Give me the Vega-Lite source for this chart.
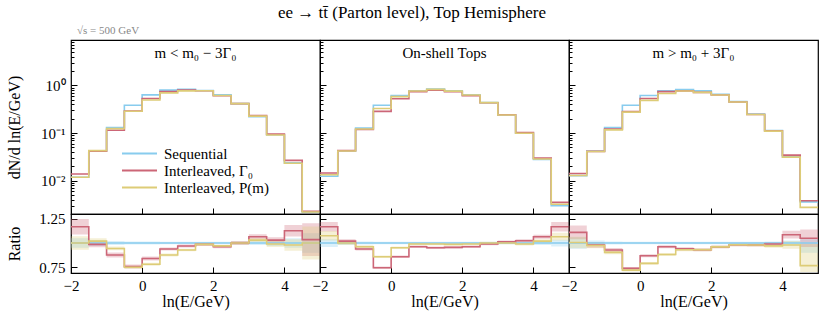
{
"$schema": "https://vega.github.io/schema/vega-lite/v6.json",
"background": "white",
"padding": {"left": 5, "right": 8, "top": 3, "bottom": 3},
"title": {"text": "ee → tt̄ (Parton level), Top Hemisphere", "font": "Liberation Serif", "fontSize": 17, "fontWeight": "normal", "anchor": "middle", "offset": 3, "color": "black"},
"config": {
  "font": "Liberation Serif",
  "view": {"stroke": "black", "strokeWidth": 1.2},
  "axis": {"grid": false, "domain": false, "tickColor": "black", "labelColor": "black", "titleColor": "black", "labelFont": "Liberation Serif", "titleFont": "Liberation Serif", "labelFontSize": 15, "titleFontSize": 16, "titleFontWeight": "normal", "labelFlush": false, "labelOverlap": false, "tickWidth": 1},
  "legend": {"orient": "none", "legendX": 61, "legendY": 106, "labelFont": "Liberation Serif", "labelFontSize": 15, "labelColor": "black", "symbolType": "M-5,0L5,0", "symbolStrokeWidth": 2, "symbolSize": 49, "labelOffset": 17, "rowPadding": 1}
},
"datasets": {
"top": [
{"p":"L","s":"S","x":-2,"y":0.0118},{"p":"L","s":"S","x":-1.5,"y":0.042},{"p":"L","s":"S","x":-1,"y":0.131},{"p":"L","s":"S","x":-0.5,"y":0.383},{"p":"L","s":"S","x":0,"y":0.634},{"p":"L","s":"S","x":0.5,"y":0.796},{"p":"L","s":"S","x":1,"y":0.83},{"p":"L","s":"S","x":1.5,"y":0.784},{"p":"L","s":"S","x":2,"y":0.634},{"p":"L","s":"S","x":2.5,"y":0.415},{"p":"L","s":"S","x":3,"y":0.22},{"p":"L","s":"S","x":3.5,"y":0.092},{"p":"L","s":"S","x":4,"y":0.0237},{"p":"L","s":"S","x":4.5,"y":0.0022},{"p":"L","s":"S","x":5,"y":0.0022},
{"p":"L","s":"G","x":-2,"y":0.0138},{"p":"L","s":"G","x":-1.5,"y":0.0414},{"p":"L","s":"G","x":-1,"y":0.115},{"p":"L","s":"G","x":-0.5,"y":0.289},{"p":"L","s":"G","x":0,"y":0.533},{"p":"L","s":"G","x":0.5,"y":0.747},{"p":"L","s":"G","x":1,"y":0.804},{"p":"L","s":"G","x":1.5,"y":0.773},{"p":"L","s":"G","x":2,"y":0.61},{"p":"L","s":"G","x":2.5,"y":0.415},{"p":"L","s":"G","x":3,"y":0.234},{"p":"L","s":"G","x":3.5,"y":0.095},{"p":"L","s":"G","x":4,"y":0.0267},{"p":"L","s":"G","x":4.5,"y":0.00228},{"p":"L","s":"G","x":5,"y":0.00228},
{"p":"L","s":"P","x":-2,"y":0.0118},{"p":"L","s":"P","x":-1.5,"y":0.0428},{"p":"L","s":"P","x":-1,"y":0.124},{"p":"L","s":"P","x":-0.5,"y":0.287},{"p":"L","s":"P","x":0,"y":0.495},{"p":"L","s":"P","x":0.5,"y":0.697},{"p":"L","s":"P","x":1,"y":0.77},{"p":"L","s":"P","x":1.5,"y":0.773},{"p":"L","s":"P","x":2,"y":0.615},{"p":"L","s":"P","x":2.5,"y":0.415},{"p":"L","s":"P","x":3,"y":0.227},{"p":"L","s":"P","x":3.5,"y":0.091},{"p":"L","s":"P","x":4,"y":0.0232},{"p":"L","s":"P","x":4.5,"y":0.0022},{"p":"L","s":"P","x":5,"y":0.0022},
{"p":"M","s":"S","x":-2,"y":0.0124},{"p":"M","s":"S","x":-1.5,"y":0.042},{"p":"M","s":"S","x":-1,"y":0.127},{"p":"M","s":"S","x":-0.5,"y":0.383},{"p":"M","s":"S","x":0,"y":0.614},{"p":"M","s":"S","x":0.5,"y":0.77},{"p":"M","s":"S","x":1,"y":0.836},{"p":"M","s":"S","x":1.5,"y":0.77},{"p":"M","s":"S","x":2,"y":0.634},{"p":"M","s":"S","x":2.5,"y":0.436},{"p":"M","s":"S","x":3,"y":0.239},{"p":"M","s":"S","x":3.5,"y":0.1},{"p":"M","s":"S","x":4,"y":0.028},{"p":"M","s":"S","x":4.5,"y":0.003},{"p":"M","s":"S","x":5,"y":0.003},
{"p":"M","s":"G","x":-2,"y":0.0145},{"p":"M","s":"G","x":-1.5,"y":0.0428},{"p":"M","s":"G","x":-1,"y":0.119},{"p":"M","s":"G","x":-0.5,"y":0.285},{"p":"M","s":"G","x":0,"y":0.527},{"p":"M","s":"G","x":0.5,"y":0.741},{"p":"M","s":"G","x":1,"y":0.795},{"p":"M","s":"G","x":1.5,"y":0.735},{"p":"M","s":"G","x":2,"y":0.61},{"p":"M","s":"G","x":2.5,"y":0.432},{"p":"M","s":"G","x":3,"y":0.242},{"p":"M","s":"G","x":3.5,"y":0.102},{"p":"M","s":"G","x":4,"y":0.0298},{"p":"M","s":"G","x":4.5,"y":0.0035},{"p":"M","s":"G","x":5,"y":0.0035},
{"p":"M","s":"P","x":-2,"y":0.0133},{"p":"M","s":"P","x":-1.5,"y":0.042},{"p":"M","s":"P","x":-1,"y":0.122},{"p":"M","s":"P","x":-0.5,"y":0.329},{"p":"M","s":"P","x":0,"y":0.584},{"p":"M","s":"P","x":0.5,"y":0.762},{"p":"M","s":"P","x":1,"y":0.828},{"p":"M","s":"P","x":1.5,"y":0.759},{"p":"M","s":"P","x":2,"y":0.628},{"p":"M","s":"P","x":2.5,"y":0.436},{"p":"M","s":"P","x":3,"y":0.239},{"p":"M","s":"P","x":3.5,"y":0.099},{"p":"M","s":"P","x":4,"y":0.0286},{"p":"M","s":"P","x":4.5,"y":0.0032},{"p":"M","s":"P","x":5,"y":0.0032},
{"p":"R","s":"S","x":-2,"y":0.0128},{"p":"R","s":"S","x":-1.5,"y":0.042},{"p":"R","s":"S","x":-1,"y":0.13},{"p":"R","s":"S","x":-0.5,"y":0.383},{"p":"R","s":"S","x":0,"y":0.614},{"p":"R","s":"S","x":0.5,"y":0.77},{"p":"R","s":"S","x":1,"y":0.82},{"p":"R","s":"S","x":1.5,"y":0.77},{"p":"R","s":"S","x":2,"y":0.655},{"p":"R","s":"S","x":2.5,"y":0.458},{"p":"R","s":"S","x":3,"y":0.25},{"p":"R","s":"S","x":3.5,"y":0.113},{"p":"R","s":"S","x":4,"y":0.0318},{"p":"R","s":"S","x":4.5,"y":0.0036},{"p":"R","s":"S","x":5,"y":0.0036},
{"p":"R","s":"G","x":-2,"y":0.0142},{"p":"R","s":"G","x":-1.5,"y":0.0412},{"p":"R","s":"G","x":-1,"y":0.121},{"p":"R","s":"G","x":-0.5,"y":0.283},{"p":"R","s":"G","x":0,"y":0.534},{"p":"R","s":"G","x":0.5,"y":0.741},{"p":"R","s":"G","x":1,"y":0.771},{"p":"R","s":"G","x":1.5,"y":0.716},{"p":"R","s":"G","x":2,"y":0.629},{"p":"R","s":"G","x":2.5,"y":0.45},{"p":"R","s":"G","x":3,"y":0.245},{"p":"R","s":"G","x":3.5,"y":0.112},{"p":"R","s":"G","x":4,"y":0.0345},{"p":"R","s":"G","x":4.5,"y":0.0038},{"p":"R","s":"G","x":5,"y":0.0038},
{"p":"R","s":"P","x":-2,"y":0.0129},{"p":"R","s":"P","x":-1.5,"y":0.041},{"p":"R","s":"P","x":-1,"y":0.117},{"p":"R","s":"P","x":-0.5,"y":0.276},{"p":"R","s":"P","x":0,"y":0.485},{"p":"R","s":"P","x":0.5,"y":0.679},{"p":"R","s":"P","x":1,"y":0.763},{"p":"R","s":"P","x":1.5,"y":0.716},{"p":"R","s":"P","x":2,"y":0.629},{"p":"R","s":"P","x":2.5,"y":0.45},{"p":"R","s":"P","x":3,"y":0.245},{"p":"R","s":"P","x":3.5,"y":0.11},{"p":"R","s":"P","x":4,"y":0.0312},{"p":"R","s":"P","x":4.5,"y":0.00276},{"p":"R","s":"P","x":5,"y":0.00276}
],
"ratio": [
{"p":"L","s":"S","x":-2,"r":1,"lo":0.95,"hi":1.05},{"p":"L","s":"S","x":-1.5,"r":1,"lo":0.97,"hi":1.03},{"p":"L","s":"S","x":-1,"r":1,"lo":0.98,"hi":1.02},{"p":"L","s":"S","x":-0.5,"r":1,"lo":0.985,"hi":1.015},{"p":"L","s":"S","x":0,"r":1,"lo":0.985,"hi":1.015},{"p":"L","s":"S","x":0.5,"r":1,"lo":0.988,"hi":1.012},{"p":"L","s":"S","x":1,"r":1,"lo":0.988,"hi":1.012},{"p":"L","s":"S","x":1.5,"r":1,"lo":0.988,"hi":1.012},{"p":"L","s":"S","x":2,"r":1,"lo":0.988,"hi":1.012},{"p":"L","s":"S","x":2.5,"r":1,"lo":0.985,"hi":1.015},{"p":"L","s":"S","x":3,"r":1,"lo":0.98,"hi":1.02},{"p":"L","s":"S","x":3.5,"r":1,"lo":0.97,"hi":1.03},{"p":"L","s":"S","x":4,"r":1,"lo":0.95,"hi":1.05},{"p":"L","s":"S","x":4.5,"r":1,"lo":0.9,"hi":1.1},{"p":"L","s":"S","x":5,"r":1,"lo":0.9,"hi":1.1},
{"p":"L","s":"G","x":-2,"r":1.168,"lo":1.088,"hi":1.248},{"p":"L","s":"G","x":-1.5,"r":0.986,"lo":0.956,"hi":1.016},{"p":"L","s":"G","x":-1,"r":0.876,"lo":0.851,"hi":0.901},{"p":"L","s":"G","x":-0.5,"r":0.757,"lo":0.737,"hi":0.777},{"p":"L","s":"G","x":0,"r":0.84,"lo":0.82,"hi":0.86},{"p":"L","s":"G","x":0.5,"r":0.938,"lo":0.923,"hi":0.953},{"p":"L","s":"G","x":1,"r":0.969,"lo":0.954,"hi":0.984},{"p":"L","s":"G","x":1.5,"r":0.986,"lo":0.971,"hi":1.001},{"p":"L","s":"G","x":2,"r":0.962,"lo":0.947,"hi":0.977},{"p":"L","s":"G","x":2.5,"r":1.0,"lo":0.98,"hi":1.02},{"p":"L","s":"G","x":3,"r":1.065,"lo":1.04,"hi":1.09},{"p":"L","s":"G","x":3.5,"r":1.03,"lo":1.0,"hi":1.06},{"p":"L","s":"G","x":4,"r":1.127,"lo":1.067,"hi":1.187},{"p":"L","s":"G","x":4.5,"r":1.035,"lo":0.865,"hi":1.205},{"p":"L","s":"G","x":5,"r":1.035,"lo":0.865,"hi":1.205},
{"p":"L","s":"P","x":-2,"r":1.0,"lo":0.93,"hi":1.07},{"p":"L","s":"P","x":-1.5,"r":1.02,"lo":0.99,"hi":1.05},{"p":"L","s":"P","x":-1,"r":0.944,"lo":0.924,"hi":0.964},{"p":"L","s":"P","x":-0.5,"r":0.75,"lo":0.735,"hi":0.765},{"p":"L","s":"P","x":0,"r":0.78,"lo":0.765,"hi":0.795},{"p":"L","s":"P","x":0.5,"r":0.876,"lo":0.861,"hi":0.891},{"p":"L","s":"P","x":1,"r":0.928,"lo":0.916,"hi":0.94},{"p":"L","s":"P","x":1.5,"r":0.986,"lo":0.974,"hi":0.998},{"p":"L","s":"P","x":2,"r":0.97,"lo":0.958,"hi":0.982},{"p":"L","s":"P","x":2.5,"r":1.0,"lo":0.985,"hi":1.015},{"p":"L","s":"P","x":3,"r":1.03,"lo":1.01,"hi":1.05},{"p":"L","s":"P","x":3.5,"r":0.99,"lo":0.96,"hi":1.02},{"p":"L","s":"P","x":4,"r":0.98,"lo":0.92,"hi":1.04},{"p":"L","s":"P","x":4.5,"r":1.0,"lo":0.83,"hi":1.17},{"p":"L","s":"P","x":5,"r":1.0,"lo":0.83,"hi":1.17},
{"p":"M","s":"S","x":-2,"r":1,"lo":0.96,"hi":1.04},{"p":"M","s":"S","x":-1.5,"r":1,"lo":0.98,"hi":1.02},{"p":"M","s":"S","x":-1,"r":1,"lo":0.985,"hi":1.015},{"p":"M","s":"S","x":-0.5,"r":1,"lo":0.988,"hi":1.012},{"p":"M","s":"S","x":0,"r":1,"lo":0.988,"hi":1.012},{"p":"M","s":"S","x":0.5,"r":1,"lo":0.988,"hi":1.012},{"p":"M","s":"S","x":1,"r":1,"lo":0.988,"hi":1.012},{"p":"M","s":"S","x":1.5,"r":1,"lo":0.988,"hi":1.012},{"p":"M","s":"S","x":2,"r":1,"lo":0.988,"hi":1.012},{"p":"M","s":"S","x":2.5,"r":1,"lo":0.988,"hi":1.012},{"p":"M","s":"S","x":3,"r":1,"lo":0.988,"hi":1.012},{"p":"M","s":"S","x":3.5,"r":1,"lo":0.985,"hi":1.015},{"p":"M","s":"S","x":4,"r":1,"lo":0.98,"hi":1.02},{"p":"M","s":"S","x":4.5,"r":1,"lo":0.965,"hi":1.035},{"p":"M","s":"S","x":5,"r":1,"lo":0.965,"hi":1.035},
{"p":"M","s":"G","x":-2,"r":1.168,"lo":1.118,"hi":1.218},{"p":"M","s":"G","x":-1.5,"r":1.02,"lo":1.0,"hi":1.04},{"p":"M","s":"G","x":-1,"r":0.938,"lo":0.923,"hi":0.953},{"p":"M","s":"G","x":-0.5,"r":0.745,"lo":0.733,"hi":0.757},{"p":"M","s":"G","x":0,"r":0.858,"lo":0.846,"hi":0.87},{"p":"M","s":"G","x":0.5,"r":0.962,"lo":0.95,"hi":0.974},{"p":"M","s":"G","x":1,"r":0.951,"lo":0.939,"hi":0.963},{"p":"M","s":"G","x":1.5,"r":0.955,"lo":0.943,"hi":0.967},{"p":"M","s":"G","x":2,"r":0.962,"lo":0.95,"hi":0.974},{"p":"M","s":"G","x":2.5,"r":0.99,"lo":0.978,"hi":1.002},{"p":"M","s":"G","x":3,"r":1.013,"lo":1.001,"hi":1.025},{"p":"M","s":"G","x":3.5,"r":1.024,"lo":1.009,"hi":1.039},{"p":"M","s":"G","x":4,"r":1.065,"lo":1.045,"hi":1.085},{"p":"M","s":"G","x":4.5,"r":1.168,"lo":1.118,"hi":1.218},{"p":"M","s":"G","x":5,"r":1.168,"lo":1.118,"hi":1.218},
{"p":"M","s":"P","x":-2,"r":1.075,"lo":1.025,"hi":1.125},{"p":"M","s":"P","x":-1.5,"r":1.0,"lo":0.98,"hi":1.02},{"p":"M","s":"P","x":-1,"r":0.962,"lo":0.947,"hi":0.977},{"p":"M","s":"P","x":-0.5,"r":0.858,"lo":0.846,"hi":0.87},{"p":"M","s":"P","x":0,"r":0.951,"lo":0.939,"hi":0.963},{"p":"M","s":"P","x":0.5,"r":0.99,"lo":0.978,"hi":1.002},{"p":"M","s":"P","x":1,"r":0.99,"lo":0.978,"hi":1.002},{"p":"M","s":"P","x":1.5,"r":0.986,"lo":0.974,"hi":0.998},{"p":"M","s":"P","x":2,"r":0.99,"lo":0.978,"hi":1.002},{"p":"M","s":"P","x":2.5,"r":1.0,"lo":0.988,"hi":1.012},{"p":"M","s":"P","x":3,"r":1.0,"lo":0.988,"hi":1.012},{"p":"M","s":"P","x":3.5,"r":0.99,"lo":0.975,"hi":1.005},{"p":"M","s":"P","x":4,"r":1.02,"lo":1.0,"hi":1.04},{"p":"M","s":"P","x":4.5,"r":1.065,"lo":1.025,"hi":1.105},{"p":"M","s":"P","x":5,"r":1.065,"lo":1.025,"hi":1.105},
{"p":"R","s":"S","x":-2,"r":1,"lo":0.94,"hi":1.06},{"p":"R","s":"S","x":-1.5,"r":1,"lo":0.975,"hi":1.025},{"p":"R","s":"S","x":-1,"r":1,"lo":0.985,"hi":1.015},{"p":"R","s":"S","x":-0.5,"r":1,"lo":0.988,"hi":1.012},{"p":"R","s":"S","x":0,"r":1,"lo":0.988,"hi":1.012},{"p":"R","s":"S","x":0.5,"r":1,"lo":0.988,"hi":1.012},{"p":"R","s":"S","x":1,"r":1,"lo":0.988,"hi":1.012},{"p":"R","s":"S","x":1.5,"r":1,"lo":0.988,"hi":1.012},{"p":"R","s":"S","x":2,"r":1,"lo":0.988,"hi":1.012},{"p":"R","s":"S","x":2.5,"r":1,"lo":0.988,"hi":1.012},{"p":"R","s":"S","x":3,"r":1,"lo":0.988,"hi":1.012},{"p":"R","s":"S","x":3.5,"r":1,"lo":0.985,"hi":1.015},{"p":"R","s":"S","x":4,"r":1,"lo":0.975,"hi":1.025},{"p":"R","s":"S","x":4.5,"r":1,"lo":0.9,"hi":1.04},{"p":"R","s":"S","x":5,"r":1,"lo":0.9,"hi":1.04},
{"p":"R","s":"G","x":-2,"r":1.11,"lo":1.04,"hi":1.18},{"p":"R","s":"G","x":-1.5,"r":0.98,"lo":0.95,"hi":1.01},{"p":"R","s":"G","x":-1,"r":0.928,"lo":0.908,"hi":0.948},{"p":"R","s":"G","x":-0.5,"r":0.738,"lo":0.723,"hi":0.753},{"p":"R","s":"G","x":0,"r":0.869,"lo":0.854,"hi":0.884},{"p":"R","s":"G","x":0.5,"r":0.962,"lo":0.947,"hi":0.977},{"p":"R","s":"G","x":1,"r":0.94,"lo":0.925,"hi":0.955},{"p":"R","s":"G","x":1.5,"r":0.93,"lo":0.915,"hi":0.945},{"p":"R","s":"G","x":2,"r":0.96,"lo":0.945,"hi":0.975},{"p":"R","s":"G","x":2.5,"r":0.982,"lo":0.967,"hi":0.997},{"p":"R","s":"G","x":3,"r":0.98,"lo":0.965,"hi":0.995},{"p":"R","s":"G","x":3.5,"r":0.99,"lo":0.97,"hi":1.01},{"p":"R","s":"G","x":4,"r":1.086,"lo":1.046,"hi":1.126},{"p":"R","s":"G","x":4.5,"r":1.05,"lo":0.96,"hi":1.14},{"p":"R","s":"G","x":5,"r":1.05,"lo":0.96,"hi":1.14},
{"p":"R","s":"P","x":-2,"r":1.006,"lo":0.946,"hi":1.066},{"p":"R","s":"P","x":-1.5,"r":0.975,"lo":0.945,"hi":1.005},{"p":"R","s":"P","x":-1,"r":0.903,"lo":0.883,"hi":0.923},{"p":"R","s":"P","x":-0.5,"r":0.72,"lo":0.705,"hi":0.735},{"p":"R","s":"P","x":0,"r":0.79,"lo":0.775,"hi":0.805},{"p":"R","s":"P","x":0.5,"r":0.882,"lo":0.867,"hi":0.897},{"p":"R","s":"P","x":1,"r":0.93,"lo":0.915,"hi":0.945},{"p":"R","s":"P","x":1.5,"r":0.93,"lo":0.915,"hi":0.945},{"p":"R","s":"P","x":2,"r":0.96,"lo":0.945,"hi":0.975},{"p":"R","s":"P","x":2.5,"r":0.982,"lo":0.967,"hi":0.997},{"p":"R","s":"P","x":3,"r":0.98,"lo":0.965,"hi":0.995},{"p":"R","s":"P","x":3.5,"r":0.97,"lo":0.95,"hi":0.99},{"p":"R","s":"P","x":4,"r":0.98,"lo":0.94,"hi":1.02},{"p":"R","s":"P","x":4.5,"r":0.766,"lo":0.7,"hi":0.99},{"p":"R","s":"P","x":5,"r":0.766,"lo":0.7,"hi":0.99}
]
},
"columns": 3,
"spacing": 0,
"bounds": "flush",
"concat": [
  {
   "width": 249, "height": 174,
   "layer": [
    {
     "data": {"name": "top"},
     "transform": [{"filter": "datum.p == 'L'"}],
     "mark": {"type": "line", "interpolate": "step-after", "strokeWidth": 1.6, "clip": true},
     "encoding": {
      "x": {"field": "x", "type": "quantitative", "scale": {"domain": [-2, 5], "nice": false, "zero": false}, "axis": {"values": [-2, 0, 2, 4], "labels": false, "title": null, "tickSize": -6}},
      "y": {"field": "y", "type": "quantitative", "scale": {"type": "log", "domain": [0.002, 9], "nice": false}, "axis": {"title": "dN/d ln(E/GeV)", "titleX": -57, "titleBaseline": "middle", "tickCount": 40, "labelPadding": 12, "tickSize": {"condition": {"test": "abs(log(datum.value)/LN10 - round(log(datum.value)/LN10)) < 0.001", "value": -6}, "value": -3}, "labelExpr": "abs(log(datum.value)/LN10 - round(log(datum.value)/LN10)) < 0.001 ? (round(log(datum.value)/LN10) == 0 ? '10⁰' : round(log(datum.value)/LN10) == -1 ? '10⁻¹' : round(log(datum.value)/LN10) == -2 ? '10⁻²' : '') : ''"}},
      "color": {"field": "s", "type": "nominal", "title": null, "scale": {"domain": ["S", "G", "P"], "range": ["#88CCEE", "#CC6677", "#DDCC77"]}, "legend": {"labelExpr": "datum.label == 'S' ? 'Sequential' : datum.label == 'G' ? 'Interleaved, Γ₀' : 'Interleaved, P(m)'"}}
     }
    },
    {
     "data": {"values": [{"label": "m < m₀ − 3Γ₀"}]},
     "mark": {"type": "text", "fontSize": 15, "font": "Liberation Serif", "baseline": "middle", "align": "center", "color": "black"},
     "encoding": {"x": {"datum": 1.5}, "y": {"datum": 4.7}, "text": {"field": "label"}}
    },
    {
     "data": {"values": [{"label": "√s = 500 GeV"}]},
     "mark": {"type": "text", "fontSize": 11, "font": "Liberation Serif", "baseline": "middle", "align": "left", "color": "#888888"},
     "encoding": {"x": {"datum": -1.83}, "y": {"datum": 13.6}, "text": {"field": "label"}}
    }
   ]
  },
  {
   "width": 249, "height": 174,
   "layer": [
    {
     "data": {"name": "top"},
     "transform": [{"filter": "datum.p == 'M'"}],
     "mark": {"type": "line", "interpolate": "step-after", "strokeWidth": 1.6, "clip": true},
     "encoding": {
      "x": {"field": "x", "type": "quantitative", "scale": {"domain": [-2, 5], "nice": false, "zero": false}, "axis": {"values": [-2, 0, 2, 4], "labels": false, "title": null, "tickSize": -6}},
      "y": {"field": "y", "type": "quantitative", "scale": {"type": "log", "domain": [0.002, 9], "nice": false}, "axis": {"title": null, "labels": false, "tickCount": 40, "tickSize": {"condition": {"test": "abs(log(datum.value)/LN10 - round(log(datum.value)/LN10)) < 0.001", "value": -6}, "value": -3}}},
      "color": {"field": "s", "type": "nominal", "title": null, "scale": {"domain": ["S", "G", "P"], "range": ["#88CCEE", "#CC6677", "#DDCC77"]}, "legend": {"labelExpr": "datum.label == 'S' ? 'Sequential' : datum.label == 'G' ? 'Interleaved, Γ₀' : 'Interleaved, P(m)'"}}
     }
    },
    {
     "data": {"values": [{"label": "On-shell Tops"}]},
     "mark": {"type": "text", "fontSize": 15, "font": "Liberation Serif", "baseline": "middle", "align": "center", "color": "black"},
     "encoding": {"x": {"datum": 1.5}, "y": {"datum": 4.7}, "text": {"field": "label"}}
    }
   ]
  },
  {
   "width": 249, "height": 174,
   "layer": [
    {
     "data": {"name": "top"},
     "transform": [{"filter": "datum.p == 'R'"}],
     "mark": {"type": "line", "interpolate": "step-after", "strokeWidth": 1.6, "clip": true},
     "encoding": {
      "x": {"field": "x", "type": "quantitative", "scale": {"domain": [-2, 5], "nice": false, "zero": false}, "axis": {"values": [-2, 0, 2, 4], "labels": false, "title": null, "tickSize": -6}},
      "y": {"field": "y", "type": "quantitative", "scale": {"type": "log", "domain": [0.002, 9], "nice": false}, "axis": {"title": null, "labels": false, "tickCount": 40, "tickSize": {"condition": {"test": "abs(log(datum.value)/LN10 - round(log(datum.value)/LN10)) < 0.001", "value": -6}, "value": -3}}},
      "color": {"field": "s", "type": "nominal", "title": null, "scale": {"domain": ["S", "G", "P"], "range": ["#88CCEE", "#CC6677", "#DDCC77"]}, "legend": {"labelExpr": "datum.label == 'S' ? 'Sequential' : datum.label == 'G' ? 'Interleaved, Γ₀' : 'Interleaved, P(m)'"}}
     }
    },
    {
     "data": {"values": [{"label": "m > m₀ + 3Γ₀"}]},
     "mark": {"type": "text", "fontSize": 15, "font": "Liberation Serif", "baseline": "middle", "align": "center", "color": "black"},
     "encoding": {"x": {"datum": 1.5}, "y": {"datum": 4.7}, "text": {"field": "label"}}
    }
   ]
  },
  {
   "width": 249, "height": 59,
   "data": {"name": "ratio"},
   "transform": [{"filter": "datum.p == 'L'"}],
   "encoding": {
    "x": {"field": "x", "type": "quantitative", "scale": {"domain": [-2, 5], "nice": false, "zero": false}, "axis": {"values": [-2, 0, 2, 4], "title": "ln(E/GeV)", "tickSize": -6, "labelPadding": 11, "titlePadding": 0}}
   },
   "layer": [
    {"mark": {"type": "area", "interpolate": "step-after", "fillOpacity": 0.3, "clip": true},
     "encoding": {"y": {"field": "lo", "type": "quantitative", "scale": {"domain": [0.69, 1.3], "nice": false, "zero": false}, "axis": {"values": [0.75, 1.0, 1.25], "format": ".2f", "title": "Ratio", "titleX": -57, "titleBaseline": "middle", "tickSize": -6, "labelPadding": 12}}, "y2": {"field": "hi"},
      "color": {"field": "s", "type": "nominal", "title": null, "scale": {"domain": ["S", "G", "P"], "range": ["#88CCEE", "#CC6677", "#DDCC77"]}, "legend": null}}},
    {"mark": {"type": "line", "interpolate": "step-after", "strokeWidth": 1.6, "clip": true},
     "encoding": {"y": {"field": "r", "type": "quantitative"},
      "color": {"field": "s", "type": "nominal", "title": null, "scale": {"domain": ["S", "G", "P"], "range": ["#88CCEE", "#CC6677", "#DDCC77"]}, "legend": {"labelExpr": "datum.label == 'S' ? 'Sequential' : datum.label == 'G' ? 'Interleaved, Γ₀' : 'Interleaved, P(m)'"}}}}
   ]
  },
  {
   "width": 249, "height": 59,
   "data": {"name": "ratio"},
   "transform": [{"filter": "datum.p == 'M'"}],
   "encoding": {
    "x": {"field": "x", "type": "quantitative", "scale": {"domain": [-2, 5], "nice": false, "zero": false}, "axis": {"values": [-2, 0, 2, 4], "title": "ln(E/GeV)", "tickSize": -6, "labelPadding": 11, "titlePadding": 0}}
   },
   "layer": [
    {"mark": {"type": "area", "interpolate": "step-after", "fillOpacity": 0.3, "clip": true},
     "encoding": {"y": {"field": "lo", "type": "quantitative", "scale": {"domain": [0.69, 1.3], "nice": false, "zero": false}, "axis": {"values": [0.75, 1.0, 1.25], "labels": false, "title": null, "tickSize": -6}}, "y2": {"field": "hi"},
      "color": {"field": "s", "type": "nominal", "title": null, "scale": {"domain": ["S", "G", "P"], "range": ["#88CCEE", "#CC6677", "#DDCC77"]}, "legend": null}}},
    {"mark": {"type": "line", "interpolate": "step-after", "strokeWidth": 1.6, "clip": true},
     "encoding": {"y": {"field": "r", "type": "quantitative"},
      "color": {"field": "s", "type": "nominal", "title": null, "scale": {"domain": ["S", "G", "P"], "range": ["#88CCEE", "#CC6677", "#DDCC77"]}, "legend": {"labelExpr": "datum.label == 'S' ? 'Sequential' : datum.label == 'G' ? 'Interleaved, Γ₀' : 'Interleaved, P(m)'"}}}}
   ]
  },
  {
   "width": 249, "height": 59,
   "data": {"name": "ratio"},
   "transform": [{"filter": "datum.p == 'R'"}],
   "encoding": {
    "x": {"field": "x", "type": "quantitative", "scale": {"domain": [-2, 5], "nice": false, "zero": false}, "axis": {"values": [-2, 0, 2, 4], "title": "ln(E/GeV)", "tickSize": -6, "labelPadding": 11, "titlePadding": 0}}
   },
   "layer": [
    {"mark": {"type": "area", "interpolate": "step-after", "fillOpacity": 0.3, "clip": true},
     "encoding": {"y": {"field": "lo", "type": "quantitative", "scale": {"domain": [0.69, 1.3], "nice": false, "zero": false}, "axis": {"values": [0.75, 1.0, 1.25], "labels": false, "title": null, "tickSize": -6}}, "y2": {"field": "hi"},
      "color": {"field": "s", "type": "nominal", "title": null, "scale": {"domain": ["S", "G", "P"], "range": ["#88CCEE", "#CC6677", "#DDCC77"]}, "legend": null}}},
    {"mark": {"type": "line", "interpolate": "step-after", "strokeWidth": 1.6, "clip": true},
     "encoding": {"y": {"field": "r", "type": "quantitative"},
      "color": {"field": "s", "type": "nominal", "title": null, "scale": {"domain": ["S", "G", "P"], "range": ["#88CCEE", "#CC6677", "#DDCC77"]}, "legend": {"labelExpr": "datum.label == 'S' ? 'Sequential' : datum.label == 'G' ? 'Interleaved, Γ₀' : 'Interleaved, P(m)'"}}}}
   ]
  }
]
}
